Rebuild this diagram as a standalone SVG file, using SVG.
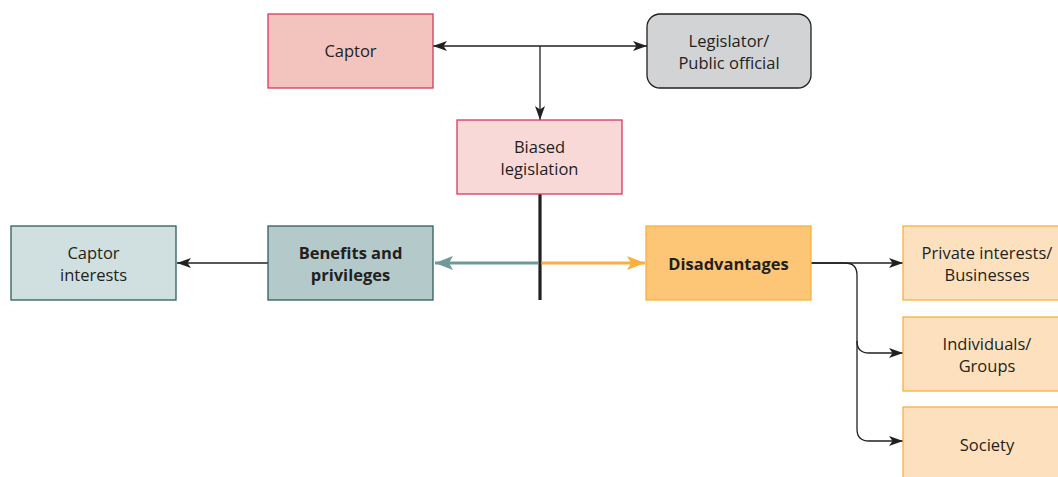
<svg xmlns="http://www.w3.org/2000/svg" width="1058" height="477" viewBox="0 0 1058 477">
  <defs>
    <marker id="arr" viewBox="0 0 14 10" refX="14" refY="5" markerWidth="14" markerHeight="10" markerUnits="userSpaceOnUse" orient="auto-start-reverse">
      <path d="M0,0 L14,5 L0,10 L3.5,5 Z" fill="#231f20"/>
    </marker>
    <marker id="arrTeal" viewBox="0 0 18 14" refX="18" refY="7" markerWidth="18" markerHeight="14" markerUnits="userSpaceOnUse" orient="auto">
      <path d="M0,0 L18,7 L0,14 L4,7 Z" fill="#6f9a98"/>
    </marker>
    <marker id="arrOrange" viewBox="0 0 18 14" refX="18" refY="7" markerWidth="18" markerHeight="14" markerUnits="userSpaceOnUse" orient="auto">
      <path d="M0,0 L18,7 L0,14 L4,7 Z" fill="#f9b040"/>
    </marker>
  </defs>
  <style>
    text { font-family: "Open Sans", "Noto Sans", "Liberation Sans", sans-serif; font-size: 16.5px; fill: #231f20; text-anchor: middle; }
    .b { font-weight: bold; }
    .conn { fill: none; stroke: #231f20; stroke-width: 1.3; }
    .pink { fill: #f3c3bd; stroke: #d9375e; stroke-width: 1.3; }
    .pinkL { fill: #f9d9d8; stroke: #d9375e; stroke-width: 1.3; }
    .gray { fill: #d1d3d4; stroke: #231f20; stroke-width: 1.3; }
    .tealL { fill: #d0dfdf; stroke: #2f5e5e; stroke-width: 1.3; }
    .teal { fill: #b3c9ca; stroke: #2f5e5e; stroke-width: 1.3; }
    .orange { fill: #fdc676; stroke: #f9b040; stroke-width: 1.3; }
    .orangeL { fill: #fde1bf; stroke: #f9b040; stroke-width: 1.3; }
  </style>
  <rect width="1058" height="477" fill="#ffffff"/>

  <g id="connectors">
    <line class="conn" x1="433" y1="46" x2="647" y2="46" marker-start="url(#arr)" marker-end="url(#arr)"/>
    <line class="conn" x1="540" y1="46" x2="540" y2="120" marker-end="url(#arr)"/>
    <line x1="540" y1="194" x2="540" y2="300" stroke="#231f20" stroke-width="3.2"/>
    <line x1="538.5" y1="263" x2="435" y2="263" stroke="#6f9a98" stroke-width="3" marker-end="url(#arrTeal)"/>
    <line x1="541.5" y1="263" x2="645" y2="263" stroke="#f9b040" stroke-width="3" marker-end="url(#arrOrange)"/>
    <line class="conn" x1="268" y1="263" x2="177" y2="263" marker-end="url(#arr)"/>
    <line class="conn" x1="811" y1="263" x2="903" y2="263" marker-end="url(#arr)"/>
    <path class="conn" d="M811,263 H845 Q857,263 857,275 V341 Q857,353 869,353 H903" marker-end="url(#arr)"/>
    <path class="conn" d="M857,341 V429 Q857,441 869,441 H903" marker-end="url(#arr)"/>
  </g>

  <g id="captor">
    <rect class="pink" x="268" y="14" width="165" height="74"/>
    <text x="350.5" y="57">Captor</text>
  </g>
  <g id="legislator">
    <rect class="gray" x="647" y="14" width="164" height="74" rx="13"/>
    <text x="729" y="47">Legislator/</text>
    <text x="729" y="69">Public official</text>
  </g>
  <g id="biased-legislation">
    <rect class="pinkL" x="457" y="120" width="165" height="74"/>
    <text x="539.5" y="153">Biased</text>
    <text x="539.5" y="175">legislation</text>
  </g>
  <g id="captor-interests">
    <rect class="tealL" x="11" y="226" width="165" height="74"/>
    <text x="93.5" y="259">Captor</text>
    <text x="93.5" y="281">interests</text>
  </g>
  <g id="benefits">
    <rect class="teal" x="268" y="226" width="165" height="74"/>
    <text class="b" x="350.5" y="259">Benefits and</text>
    <text class="b" x="350.5" y="281">privileges</text>
  </g>
  <g id="disadvantages">
    <rect class="orange" x="646" y="226" width="165" height="74"/>
    <text class="b" x="728.5" y="270">Disadvantages</text>
  </g>
  <g id="private-interests">
    <rect class="orangeL" x="903" y="226" width="165" height="74"/>
    <text x="987" y="259">Private interests/</text>
    <text x="987" y="281">Businesses</text>
  </g>
  <g id="individuals">
    <rect class="orangeL" x="903" y="317" width="165" height="74"/>
    <text x="987" y="350">Individuals/</text>
    <text x="987" y="372">Groups</text>
  </g>
  <g id="society">
    <rect class="orangeL" x="903" y="407" width="165" height="74"/>
    <text x="987" y="451">Society</text>
  </g>
</svg>
